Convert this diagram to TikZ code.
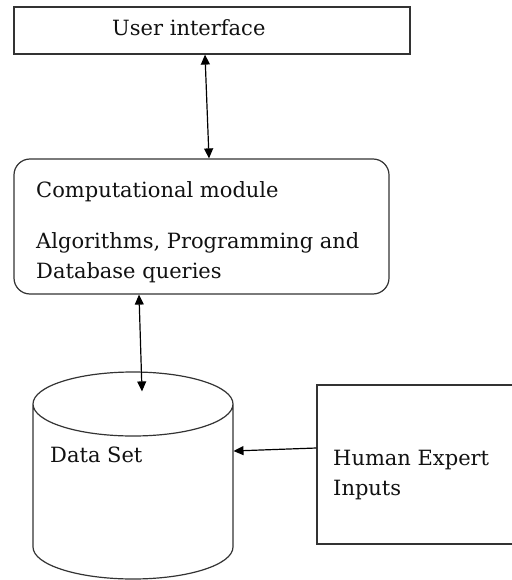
\documentclass[tikz,border=0pt]{standalone}
\usepackage{fontspec}
\setmainfont{DejaVu Serif}
\usepackage{tikz}
\usetikzlibrary{
  arrows.meta,
  shapes.geometric,
  positioning,
  calc
}
\definecolor{dsLine}{HTML}{333333}
\definecolor{dsText}{HTML}{111111}
\tikzset{
  dsnode/.style={
    draw=dsLine, line width=1.2pt, inner sep=0pt, fill=white
  },
  uibox/.style={dsnode, minimum width=396pt, minimum height=47pt},
  modbox/.style={dsnode, rounded corners=16pt, minimum width=375pt, minimum height=135pt},
  expbox/.style={dsnode, minimum width=198pt, minimum height=159pt},
  dbcyl/.style={dsnode, cylinder, shape border rotate=90, aspect=0.32,
    inner xsep=100pt, inner ysep=0pt, minimum height=207pt, anchor=shape center},
  txt/.style={font=\fontsize{21}{30}\selectfont, text=dsText, align=left,
    inner sep=0pt, anchor=base west},
  link/.style={{Triangle[length=10pt,width=9pt]}-{Triangle[length=10pt,width=9pt]}, line width=1.2pt, black},
  feed/.style={-{Triangle[length=10pt,width=9pt]}, line width=1.2pt, black}
}

\begin{document}
\begin{tikzpicture}[x=1pt, y=-1pt]
  \useasboundingbox (0,0) rectangle (511,580);
  \node[uibox] (ui) at (212,30.5) {};
  \node[modbox] (cm) at (201.5,226.5) {};
  \node[dbcyl] (db) at (133,475.5) {};
  \node[expbox] (heb) at (416,464.5) {};
  % texts (base = last line)
  \node[txt] (uitext) at (112,36) {User interface};
  \node[txt] (cmtext) at (36,278) {Computational module\\[21pt]Algorithms, Programming and\\Database queries};
  \node[txt] (dbtext) at (50,462) {Data Set};
  \node[txt] (hebtext) at (333,495) {Human Expert\\Inputs};
  % connectors
  \draw[link] ($(ui.south)+(-7,0)$) -- ($(cm.north)+(7.5,0)$);
  \draw[link] ($(cm.south)+(-62.5,0)$) -- ($(db.north)+(9,20)$);
  \draw[feed] ($(heb.west)+(0,-16.5)$) -- ($(db.shape center)+(100.5,-24.5)$);
\end{tikzpicture}
\end{document}
